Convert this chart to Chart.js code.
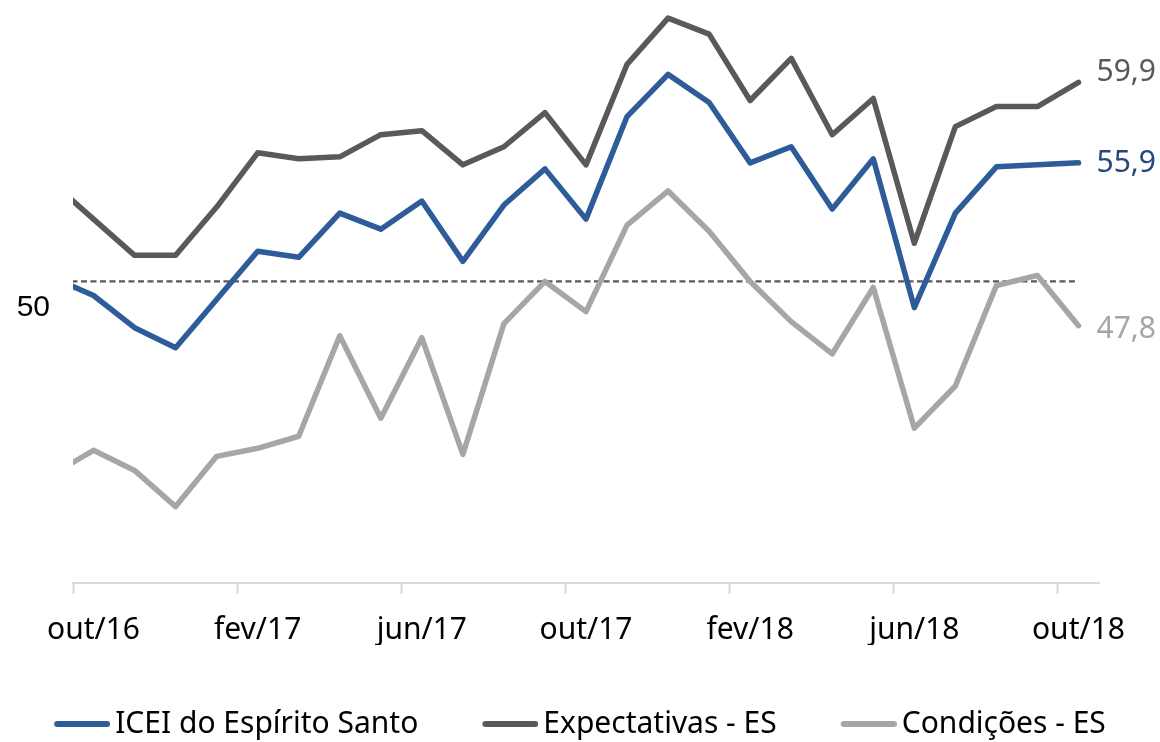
<!DOCTYPE html>
<html>
<head>
<meta charset="utf-8">
<script src="https://cdn.jsdelivr.net/npm/chart.js@4.4.1/dist/chart.umd.min.js"></script>
<style>
  html, body { margin: 0; padding: 0; background: #fff; }
  #wrap { width: 1160px; height: 742px; }
</style>
</head>
<body>
<div id="wrap"><canvas id="chart" width="1160" height="742"></canvas></div>
<script>
// months; set/16 is only the clipped start of the lines
const months = ['set/16', 'out/16', 'nov/16', 'dez/16', 'jan/17', 'fev/17', 'mar/17', 'abr/17', 'mai/17',
    'jun/17', 'jul/17', 'ago/17', 'set/17', 'out/17', 'nov/17', 'dez/17', 'jan/18', 'fev/18', 'mar/18',
    'abr/18', 'mai/18', 'jun/18', 'jul/18', 'ago/18', 'set/18', 'out/18'];
const iceiEs = [50.2, 49.3, 47.7, 46.7, 49.1, 51.5, 51.2, 53.4, 52.6, 54.0, 51.0, 53.8, 55.6, 53.1,
    58.2, 60.3, 58.9, 55.9, 56.7, 53.6, 56.1, 48.7, 53.4, 55.7, 55.8, 55.9];
const expectativasEs = [54.9, 53.1, 51.3, 51.3, 53.7, 56.4, 56.1, 56.2, 57.3, 57.5, 55.8, 56.7, 58.4, 55.8,
    60.8, 63.1, 62.3, 59.0, 61.1, 57.3, 59.1, 51.9, 57.7, 58.7, 58.7, 59.9];
const condicoesEs = [40.4, 41.6, 40.6, 38.8, 41.3, 41.7, 42.3, 47.3, 43.2, 47.2, 41.4, 47.9, 50.0, 48.5,
    52.8, 54.5, 52.5, 50.0, 48.0, 46.4, 49.7, 42.7, 44.8, 49.8, 50.3, 47.8];
const referenceLevel = 50;
const yTickValues = [50];
const xLabelEvery = 4;

const seriesNames = ['ICEI do Espírito Santo', 'Expectativas - ES', 'Condições - ES'];
const seriesColors = ['#2E5C99', '#595959', '#A6A6A6'];
const endLabelColors = ['#24487A', '#595959', '#A6A6A6'];
const endLabelShift = [1, -10, 4];

const FONT = "'Noto Sans', sans-serif";

function toPoints(values) {
    return values.map((v, i) => ({ x: i, y: v }));
}

// legend swatch: a short thick line
function legendSwatch(color) {
    const c = document.createElement('canvas');
    c.width = 66;
    c.height = 10;
    const g = c.getContext('2d');
    g.strokeStyle = color;
    g.lineWidth = 6;
    g.lineCap = 'round';
    g.beginPath();
    g.moveTo(13, 5);
    g.lineTo(63, 5);
    g.stroke();
    return c;
}
const swatches = seriesColors.map(legendSwatch);

const endLabels = {
    id: 'endLabels',
    afterDatasetsDraw(chart) {
        const ctx = chart.ctx;
        ctx.save();
        ctx.font = "30px 'Noto Sans', sans-serif";
        ctx.textBaseline = 'middle';
        ctx.textAlign = 'left';
        [iceiEs, expectativasEs, condicoesEs].forEach((values, i) => {
            const meta = chart.getDatasetMeta(i);
            const pt = meta.data[meta.data.length - 1];
            const v = values[values.length - 1];
            ctx.fillStyle = endLabelColors[i];
            ctx.fillText(v.toFixed(1).replace('.', ','), pt.x + 18, pt.y + endLabelShift[i]);
        });
        ctx.restore();
    }
};

const lineStyle = {
    borderWidth: 5.5,
    pointRadius: 0,
    borderCapStyle: 'round',
    borderJoinStyle: 'round',
    tension: 0,
    clip: { left: 0, top: false, right: false, bottom: false }
};

new Chart(document.getElementById('chart'), {
    type: 'line',
    data: {
        datasets: [
            Object.assign({ label: seriesNames[0], data: toPoints(iceiEs), borderColor: seriesColors[0] }, lineStyle),
            Object.assign({ label: seriesNames[1], data: toPoints(expectativasEs), borderColor: seriesColors[1] }, lineStyle),
            Object.assign({ label: seriesNames[2], data: toPoints(condicoesEs), borderColor: seriesColors[2] }, lineStyle),
            {
                label: 'ref',
                data: [{ x: 0, y: referenceLevel }, { x: months.length - 1, y: referenceLevel }],
                borderColor: '#595959',
                borderWidth: 2.2,
                borderDash: [6, 3.5],
                pointRadius: 0,
                clip: { left: 0, top: false, right: false, bottom: false }
            }
        ]
    },
    options: {
        responsive: false,
        animation: false,
        events: [],
        layout: {
            padding: { left: -20, right: -20, top: 0, bottom: -7 }
        },
        scales: {
            x: {
                type: 'linear',
                min: 0.5,
                max: months.length - 0.5,
                afterBuildTicks: (scale) => {
                    const t = [];
                    for (let i = 1; i < months.length; i += xLabelEvery) t.push({ value: i - 0.5 });
                    scale.ticks = t;
                },
                afterFit: (scale) => { scale.height = 62; },
                grid: {
                    drawOnChartArea: false,
                    drawTicks: true,
                    tickLength: 11,
                    tickColor: '#D9D9D9',
                    tickWidth: 2
                },
                border: { display: true, color: '#D9D9D9', width: 2 },
                ticks: {
                    autoSkip: false,
                    maxRotation: 0,
                    padding: 18,
                    labelOffset: 20.5,
                    color: '#000',
                    font: { family: FONT, size: 30 },
                    callback: (value) => months[Math.round(value + 0.5)]
                }
            },
            y: {
                min: 35,
                max: 64,
                afterBuildTicks: (scale) => { scale.ticks = yTickValues.map(v => ({ value: v })); },
                afterFit: (scale) => {
                    scale.width = 93;
                    scale.paddingTop = 0;
                    scale.paddingBottom = 0;
                },
                grid: { display: false, drawTicks: false },
                border: { display: false },
                ticks: {
                    padding: 23,
                    labelOffset: 26,
                    color: '#000',
                    font: { family: "'Liberation Sans', Arial, sans-serif", size: 30 }
                }
            },
            yRight: {
                position: 'right',
                afterFit: (scale) => {
                    scale.width = 81;
                    scale.paddingTop = 0;
                    scale.paddingBottom = 0;
                },
                grid: { display: false, drawTicks: false },
                border: { display: false },
                ticks: { display: false }
            }
        },
        plugins: {
            tooltip: { enabled: false },
            legend: {
                position: 'bottom',
                labels: {
                    usePointStyle: true,
                    pointStyleWidth: 46,
                    padding: 64,
                    color: '#000',
                    font: { family: FONT, size: 30 },
                    filter: (item) => item.datasetIndex < 3,
                    generateLabels: (chart) => Chart.defaults.plugins.legend.labels.generateLabels(chart)
                        .map(item => Object.assign(item, { pointStyle: swatches[item.datasetIndex] }))
                }
            }
        }
    },
    plugins: [endLabels]
});
</script>
</body>
</html>
